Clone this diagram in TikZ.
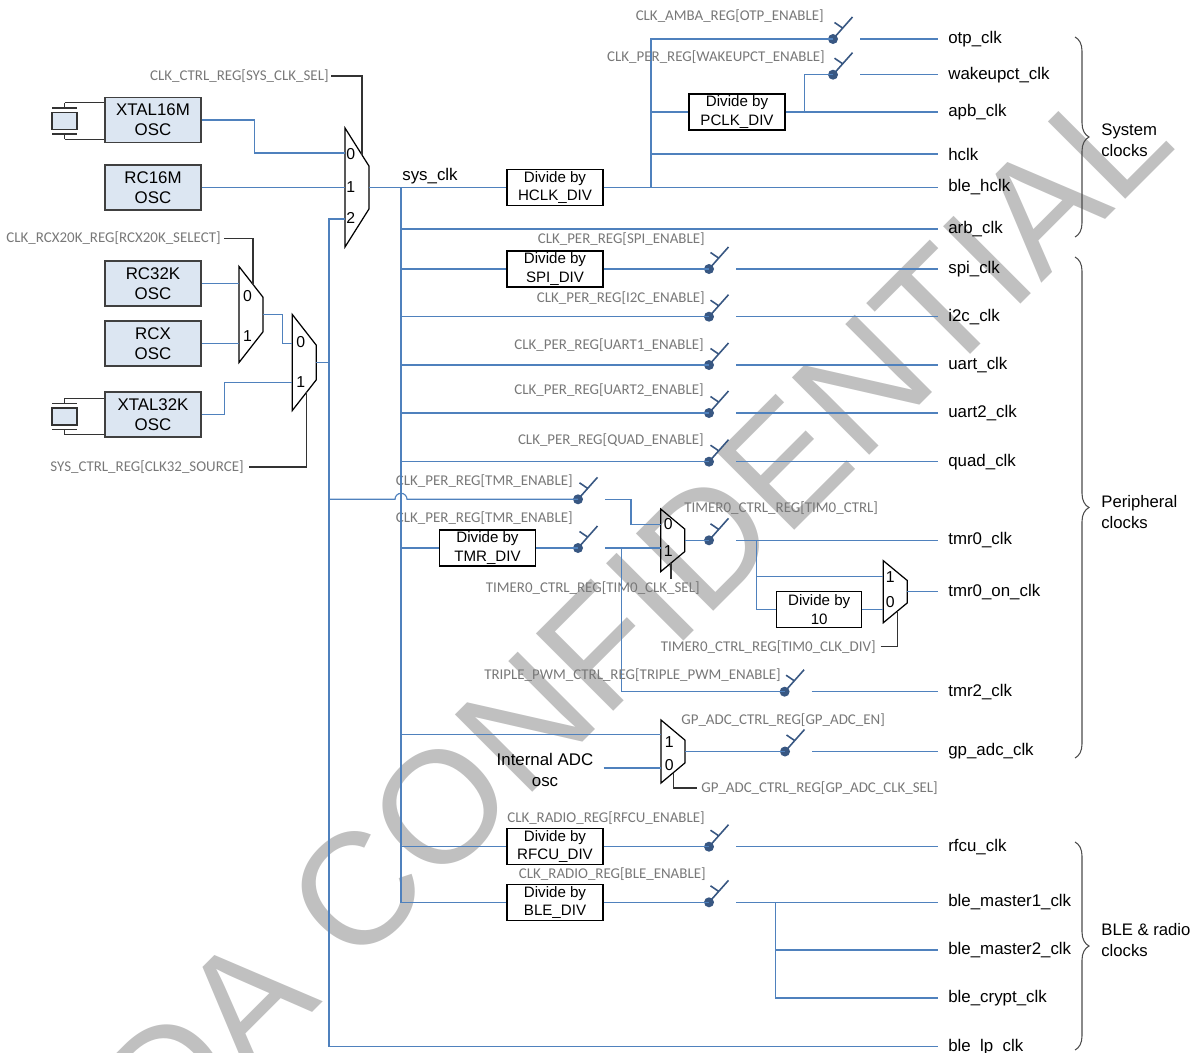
\documentclass[tikz,border=0pt]{standalone}
\usepackage{fontspec}
\setmainfont{Liberation Sans}
\newfontfamily\regfont{Carlito}
\usepackage{xcolor}
\usepackage{tikz}
\usetikzlibrary{positioning}
\usetikzlibrary{decorations.pathreplacing}

\definecolor{wire}{RGB}{79,129,189}
\definecolor{oscfill}{RGB}{220,230,242}
\definecolor{regtxt}{RGB}{120,120,120}
\definecolor{swcol}{RGB}{56,87,130}
\definecolor{wmark}{RGB}{192,192,192}

\tikzset{
  clkmux/.pic={
    \draw[black, line width=0.7pt] (0,-#1) -- (24,{-0.36*#1}) -- (24,{0.36*#1}) -- (0,#1) -- cycle;
    \coordinate (-out) at (24,0);
  },
  clkgate/.pic={
    \draw[swcol, line width=0.9pt] (0,0) -- (19.5,-22) (1.5,-16.5) -- (10,-10.7);
    \fill[swcol] (0,0) circle[radius=0.1cm];
    \coordinate (-in) at (0,0);
    \coordinate (-out) at (27,0);
  },
  xtalsym/.pic={
    \draw[black!80, line width=0.6pt, fill=oscfill] (-12.5,-8.5) rectangle (12.5,8.5);
    \draw[black!80, line width=0.6pt] (-12.5,-13) -- (12.5,-13) (-12.5,13) -- (12.5,13)
      (0,-13) -- (0,-18.3) coordinate (-top) (0,13) -- (0,18.3) coordinate (-bot);
  },
}

\begin{document}
\begin{tikzpicture}[x=0.02cm, y=-0.02cm,
  wire/.style={draw=wire, line width=0.65pt},
  ctrl/.style={draw=black!80, line width=0.6pt},
  osc/.style={draw=black!75, fill=oscfill, line width=0.8pt, minimum width=1.92cm, minimum height=0.9cm, inner sep=0pt, align=center, font=\fontsize{9.6}{11.3}\selectfont},
  divbox/.style={draw=black, line width=0.6pt, minimum width=1.92cm, minimum height=0.72cm, inner sep=0pt, align=center, font=\fontsize{8.6}{10.4}\selectfont},
  clk/.style={inner sep=0pt, font=\fontsize{9.6}{11}\selectfont},
  reg/.style={inner sep=0pt, text=regtxt, font=\regfont\fontsize{8.5}{9}\selectfont},
  pin/.style={inner sep=0pt, anchor=west, font=\fontsize{9}{10}\selectfont},
  grp/.style={inner sep=0pt, anchor=west, align=left, font=\fontsize{9.5}{11.9}\selectfont},
  clkbrace/.style={draw=black!70, line width=0.6pt, decorate, decoration={brace, amplitude=0.28cm}},
]
\useasboundingbox (0,0) rectangle (1192,1052);

% watermark
\begin{scope}
  \clip (0,0) rectangle (1192,1052);
  \node[text=wmark, rotate=45, inner sep=0pt, font=\fontsize{90.5}{90.5}\selectfont] (conf) at (634.5,613) {DA CONFIDENTIAL};
\end{scope}

% oscillators
\node[osc] (xtal16) at (153,120)   {XTAL16M\\OSC};
\node[osc] (rc16)   at (153,187.5) {RC16M\\OSC};
\node[osc] (rc32)   at (153,283.5) {RC32K\\OSC};
\node[osc] (rcx)    at (153,343.5) {RCX\\OSC};
\node[osc] (xtal32) at (153,414.5) {XTAL32K\\OSC};
\pic (q16) at (64.5,121)   {xtalsym};
\pic (q32) at (64.5,416.5) {xtalsym};
\draw[ctrl] (q16-top) -- (q16-top -| xtal16.west);
\draw[ctrl] (q16-bot) -- (q16-bot -| xtal16.west);
\draw[ctrl] (q32-top) -- (q32-top -| xtal32.west);
\draw[ctrl] (q32-bot) -- (q32-bot -| xtal32.west);

% muxes
\pic (selsys)   at (345,187.5)   {clkmux=59.5};
\pic (sel20k)   at (239,314.5)   {clkmux=48};
\pic (sel32)    at (292.3,362.5) {clkmux=48};
\pic (seltmr)   at (660.7,540.3) {clkmux=31.3};
\pic (seltmron) at (883.3,591.7) {clkmux=31};
\pic (seladc)   at (661,751.5)   {clkmux=31.5};
\node[pin] (sys0) at (346,154)   {0};
\node[pin] (sys1) at (346,187)   {1};
\node[pin] (sys2) at (346,218.3) {2};
\node[pin] (k0) at (242.7,296) {0};
\node[pin] (k1) at (242.7,336) {1};
\node[pin] (s0) at (296,341.7) {0};
\node[pin] (s1) at (296,382.3) {1};
\node[pin] (t0) at (663.5,524.3) {0};
\node[pin] (t1) at (663.5,550.7) {1};
\node[pin] (o1) at (885.5,576.7) {1};
\node[pin] (o0) at (885.5,601.7) {0};
\node[pin] (a1) at (664.5,742) {1};
\node[pin] (a0) at (664.5,765) {0};

% low frequency side
\coordinate (sysin0) at (345,153);
\coordinate (sysin1) at (345,187.5);
\coordinate (sysin2) at (345,219);
\coordinate (in20k0) at (239,283.5);
\coordinate (in20k1) at (239,343.5);
\coordinate (in32a)  at (292.3,343.3);
\coordinate (in32b)  at (292.3,382.3);
\coordinate (lpbus)  at (329,219);
\coordinate (lpend)  at (938,1046.7);
\draw[wire] (xtal16.east) -- ++(53,0) |- (sysin0);
\draw[wire] (rc16.east) -- (sysin1);
\draw[wire] (rc32.east) -- (in20k0);
\draw[wire] (rcx.east) -- (in20k1);
\draw[wire] (sel20k-out) -- ++(19.5,0) |- (in32a);
\draw[wire] (xtal32.east) -- ++(23,0) |- (in32b);
\draw[wire] (sel32-out) -- (sel32-out -| lpbus);
\draw[wire] (sysin2) -| (lpbus |- lpend) -- (lpend);

\node[reg, anchor=east] (regsys) at (329,76) {CLK\_CTRL\_REG[SYS\_CLK\_SEL]};
\draw[ctrl] (regsys.east) ++(2,0) -| (362,155.3);
\node[reg, anchor=east] (reg20k) at (221,238.3) {CLK\_RCX20K\_REG[RCX20K\_SELECT]};
\draw[ctrl] (reg20k.east) ++(3,0) -| (253,284.6);
\node[reg, anchor=east] (reg32) at (244,467) {SYS\_CTRL\_REG[CLK32\_SOURCE]};
\draw[ctrl] (reg32.east) ++(5,0) -| (306.7,392.2);

% output ends
\coordinate (otpend)    at (938,39);
\coordinate (wakend)    at (938,74.7);
\coordinate (apbend)    at (938,112);
\coordinate (hclkend)   at (938,154);
\coordinate (blehend)   at (938,187.5);
\coordinate (arbend)    at (938,229);
\coordinate (spiend)    at (938,269);
\coordinate (i2cend)    at (938,316.7);
\coordinate (uartend)   at (938,365);
\coordinate (uart2end)  at (938,413);
\coordinate (quadend)   at (938,461.7);
\coordinate (tmr0end)   at (938,540.3);
\coordinate (tmr0onend) at (938,591.7);
\coordinate (tmr2end)   at (938,691.7);
\coordinate (adcend)    at (938,751.5);
\coordinate (rfcuend)   at (938,846.7);
\coordinate (m1end)     at (938,902.3);
\coordinate (m2end)     at (938,950);
\coordinate (cryptend)  at (938,998);

\node[clk, right=0.2cm of otpend]    (otp)    {otp\_clk};
\node[clk, right=0.2cm of wakend]    (wak)    {wakeupct\_clk};
\node[clk, right=0.2cm of apbend]    (apb)    {apb\_clk};
\node[clk, right=0.2cm of hclkend]   (hclk)   {hclk};
\node[clk, right=0.2cm of blehend]   (bleh)   {ble\_hclk};
\node[clk, right=0.2cm of arbend]    (arb)    {arb\_clk};
\node[clk, right=0.2cm of spiend]    (spi)    {spi\_clk};
\node[clk, right=0.2cm of i2cend]    (i2c)    {i2c\_clk};
\node[clk, right=0.2cm of uartend]   (uart)   {uart\_clk};
\node[clk, right=0.2cm of uart2end]  (uart2)  {uart2\_clk};
\node[clk, right=0.2cm of quadend]   (quad)   {quad\_clk};
\node[clk, right=0.2cm of tmr0end]   (tmr0)   {tmr0\_clk};
\node[clk, right=0.2cm of tmr0onend] (tmr0on) {tmr0\_on\_clk};
\node[clk, right=0.2cm of tmr2end]   (tmr2)   {tmr2\_clk};
\node[clk, right=0.2cm of adcend]    (adc)    {gp\_adc\_clk};
\node[clk, right=0.2cm of rfcuend]   (rfcu)   {rfcu\_clk};
\node[clk, right=0.2cm of m1end]     (m1)     {ble\_master1\_clk};
\node[clk, right=0.2cm of m2end]     (m2)     {ble\_master2\_clk};
\node[clk, right=0.2cm of cryptend]  (crypt)  {ble\_crypt\_clk};
\node[clk, right=0.2cm of lpend]     (lp)     {ble\_lp\_clk};

% system clocks
\node[clk, anchor=west] (sysclk) at (402,175.7) {sys\_clk};
\node[divbox] (hclkdiv) at (555,187.5) {Divide by\\HCLK\_DIV};
\coordinate (sysbus) at (401,187.5);
\coordinate (hsplit) at (651,187.5);
\draw[wire] (selsys-out) -- (hclkdiv.west);
\draw[wire] (hclkdiv.east) -- (blehend);
\pic (swotp) at (833,39)   {clkgate};
\pic (swwak) at (833,74.7) {clkgate};
\draw[wire] (hsplit) |- (swotp-in);
\draw[wire] (swotp-out) -- (otpend);
\node[divbox] (pclkdiv) at (737,112) {Divide by\\PCLK\_DIV};
\draw[wire] (hsplit |- pclkdiv) -- (pclkdiv.west);
\draw[wire] (pclkdiv.east) -- (apbend);
\draw[wire] (pclkdiv.east) ++(19,0) |- (swwak-in);
\draw[wire] (swwak-out) -- (wakend);
\draw[wire] (hsplit |- hclkend) -- (hclkend);
\draw[wire] (sysbus |- arbend) -- (arbend);
\node[reg, anchor=east] (regotp) at (824,16) {CLK\_AMBA\_REG[OTP\_ENABLE]};
\node[reg, anchor=east] (regwak) at (825,56.7) {CLK\_PER\_REG[WAKEUPCT\_ENABLE]};

% peripheral clocks
\node[divbox] (spidiv) at (555,269) {Divide by\\SPI\_DIV};
\pic (swspi)   at (709,269)   {clkgate};
\pic (swi2c)   at (709,316.7) {clkgate};
\pic (swuart)  at (709,365)   {clkgate};
\pic (swuart2) at (709,413)   {clkgate};
\pic (swquad)  at (709,461.7) {clkgate};
\draw[wire] (sysbus |- spidiv) -- (spidiv.west);
\draw[wire] (spidiv.east) -- (swspi-in);
\draw[wire] (swspi-out) -- (spiend);
\draw[wire] (sysbus |- swi2c-in) -- (swi2c-in);
\draw[wire] (swi2c-out) -- (i2cend);
\draw[wire] (sysbus |- swuart-in) -- (swuart-in);
\draw[wire] (swuart-out) -- (uartend);
\draw[wire] (sysbus |- swuart2-in) -- (swuart2-in);
\draw[wire] (swuart2-out) -- (uart2end);
\draw[wire] (sysbus |- swquad-in) -- (swquad-in);
\draw[wire] (swquad-out) -- (quadend);
\node[reg, anchor=east] (regspi)   at (705,239) {CLK\_PER\_REG[SPI\_ENABLE]};
\node[reg, anchor=east] (regi2c)   at (705,298) {CLK\_PER\_REG[I2C\_ENABLE]};
\node[reg, anchor=east] (reguart)  at (704,345) {CLK\_PER\_REG[UART1\_ENABLE]};
\node[reg, anchor=east] (reguart2) at (704,390) {CLK\_PER\_REG[UART2\_ENABLE]};
\node[reg, anchor=east] (regquad)  at (704,440) {CLK\_PER\_REG[QUAD\_ENABLE]};

% timers
\pic (swtmra) at (578,499.3) {clkgate};
\draw[wire] (lpbus |- swtmra-in) -- ++(66,0) arc[start angle=180, end angle=0, radius=0.12cm] -- (swtmra-in);
\node[reg, anchor=east] (regtmra) at (573,480.7) {CLK\_PER\_REG[TMR\_ENABLE]};
\coordinate (tmrin0) at (660.7,524.3);
\coordinate (tmrin1) at (660.7,548);
\draw[wire] (swtmra-out) -- ++(26,0) |- (tmrin0);
\node[divbox] (tmrdiv) at (487.5,548) {Divide by\\TMR\_DIV};
\pic (swtmrb) at (578,548) {clkgate};
\draw[wire] (sysbus |- tmrdiv) -- (tmrdiv.west);
\draw[wire] (tmrdiv.east) -- (swtmrb-in);
\draw[wire] (swtmrb-out) -- (tmrin1);
\node[reg, anchor=east] (regtmrb) at (573,518) {CLK\_PER\_REG[TMR\_ENABLE]};
\node[reg, anchor=east] (regtmrsel) at (700,588) {TIMER0\_CTRL\_REG[TIM0\_CLK\_SEL]};
\draw[ctrl] (671,563.1) -- (671,579);
\coordinate (pwmsplit) at (621.7,548);
\pic (swpwm) at (784.6,691.7) {clkgate};
\draw[wire] (pwmsplit) |- (swpwm-in);
\draw[wire] (swpwm-out) -- (tmr2end);
\node[reg, anchor=east] (regpwm) at (781,675) {TRIPLE\_PWM\_CTRL\_REG[TRIPLE\_PWM\_ENABLE]};

\pic (swtim0) at (709,540.3) {clkgate};
\draw[wire] (seltmr-out) -- (swtim0-in);
\draw[wire] (swtim0-out) -- (tmr0end);
\node[reg, anchor=west] (regtim0) at (684,508) {TIMER0\_CTRL\_REG[TIM0\_CTRL]};
\coordinate (t0split) at (756.5,540.3);
\node[divbox, minimum width=1.69cm] (div10) at (819.2,609.5) {Divide by\\10};
\coordinate (onin1) at (883.3,576.5);
\coordinate (onin0) at (883.3,609.5);
\draw[wire] (t0split) |- (div10.west);
\draw[wire] (t0split |- onin1) -- (onin1);
\draw[wire] (div10.east) -- (onin0);
\draw[wire] (seltmron-out) -- (tmr0onend);
\node[reg, anchor=east] (regtimdiv) at (876,646.7) {TIMER0\_CTRL\_REG[TIM0\_CLK\_DIV]};
\draw[ctrl] (regtimdiv.east) ++(4.7,0) -| (897.7,610.8);

% adc
\coordinate (adcin1) at (661,734.7);
\coordinate (adcin0) at (661,768);
\draw[wire] (sysbus |- adcin1) -- (adcin1);
\node[clk, align=center, inner xsep=0.2cm, font=\fontsize{9.6}{11.9}\selectfont] (adcosc) at (545,770) {Internal ADC\\osc};
\draw[wire] (adcosc.east |- adcin0) -- (adcin0);
\pic (swadc) at (785,751.5) {clkgate};
\draw[wire] (seladc-out) -- (swadc-in);
\draw[wire] (swadc-out) -- (adcend);
\node[reg, anchor=west] (regadcen)  at (681,720) {GP\_ADC\_CTRL\_REG[GP\_ADC\_EN]};
\node[reg, anchor=west] (regadcsel) at (701,788) {GP\_ADC\_CTRL\_REG[GP\_ADC\_CLK\_SEL]};
\draw[ctrl] (673.2,773) |- ([xshift=-0.08cm]regadcsel.west);

% radio
\node[divbox] (rfcudiv) at (555,846.7) {Divide by\\RFCU\_DIV};
\pic (swrfcu) at (709,846.7) {clkgate};
\draw[wire] (sysbus |- rfcudiv) -- (rfcudiv.west);
\draw[wire] (rfcudiv.east) -- (swrfcu-in);
\draw[wire] (swrfcu-out) -- (rfcuend);
\node[reg, anchor=east] (regrfcu) at (705,818) {CLK\_RADIO\_REG[RFCU\_ENABLE]};
\node[divbox] (blediv) at (555,902.3) {Divide by\\BLE\_DIV};
\pic (swble) at (709,902.3) {clkgate};
\draw[wire] (sysbus) |- (blediv.west);
\draw[wire] (blediv.east) -- (swble-in);
\draw[wire] (swble-out) -- (m1end);
\coordinate (blesplit) at (775.7,902.3);
\draw[wire] (blesplit) |- (cryptend);
\draw[wire] (blesplit |- m2end) -- (m2end);
\node[reg, anchor=east] (regble) at (706,874) {CLK\_RADIO\_REG[BLE\_ENABLE]};

% groups
\draw[clkbrace] (1075,37) -- (1075,237);
\node[grp] (sysgrp) at (1101,140.5) {System\\clocks};
\draw[clkbrace] (1075,257) -- (1075,758);
\node[grp] (pergrp) at (1101,511.7) {Peripheral\\clocks};
\draw[clkbrace] (1075,842) -- (1075,1050);
\node[grp] (blegrp) at (1101,940) {BLE \& radio\\clocks};
\end{tikzpicture}
\end{document}
